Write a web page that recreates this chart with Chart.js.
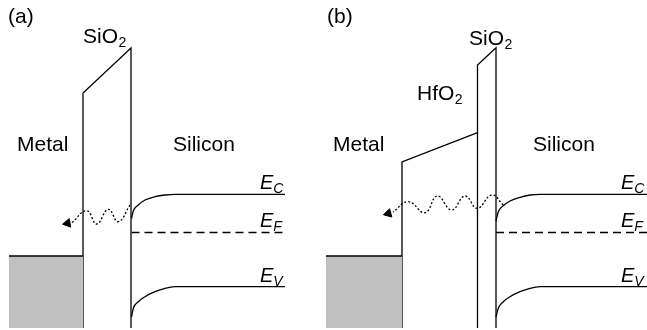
<!DOCTYPE html>
<html>
<head>
<meta charset="utf-8">
<script src="https://cdn.jsdelivr.net/npm/chart.js@4/dist/chart.umd.min.js"></script>
<style>
  html, body { margin: 0; padding: 0; background: #fff; }
  canvas { display: block; }
</style>
</head>
<body>
<canvas id="bands" width="647" height="330"></canvas>
<script>
// Energy-band diagrams for gate tunnelling:
// (a) metal / SiO2 / silicon, (b) metal / HfO2 / SiO2 / silicon.
// x = position across the stack, y = electron energy (arbitrary units, higher = up).

const BASE = 2; // lowest energy drawn

// ---- panel (a) ----
const metalA   = [[9, 74], [83, 74]];
const oxideA   = [[83, BASE], [83, 237], [131, 282], [131, BASE]];
const ecA      = [[131.5, 111.5], [133.3, 119], [138.3, 125], [145, 130], [155, 133.3], [165, 135], [175, 135.7], [285, 135.7]];
const efA      = [[131.5, 97.5], [285, 97.5]];
const evA      = [[131.5, 13], [133.3, 21.7], [138.3, 28.3], [145, 33.3], [155, 38.3], [165, 41.7], [175, 43.3], [285, 43.3]];
const tunnelA  = [[130, 125], [118.3, 108.3], [108.3, 120.7], [96.7, 106], [86.7, 119.3], [72, 107.5]];
const arrowA   = [[67.5, 106.7]];

// ---- panel (b) ----
const metalB   = [[326, 74], [402, 74]];
const hfo2B    = [[402, BASE], [402, 168], [477.5, 197.3]];
const sio2B    = [[477.5, BASE], [477.5, 265], [496, 282.3], [496, BASE]];
const ecB      = [[496, 109], [498.3, 118.3], [503.3, 124.3], [510, 129], [520, 132.7], [530, 135], [540, 135.7], [647, 135.7]];
const efB      = [[496, 97.5], [647, 97.5]];
const evB      = [[496, 13], [498.3, 21.7], [503.3, 28.3], [510, 33.3], [520, 38.3], [530, 41.7], [540, 43.3], [647, 43.3]];
const tunnelB  = [[503.3, 125], [491.7, 135], [477.3, 121.7], [465, 134], [451.7, 120], [437.3, 134], [425, 117.3], [408.3, 128.3], [393, 118]];
const arrowB   = [[388.3, 116.5]];

// ---- text labels: [text, subscript, x, baseline y, italic] ----
const labelText = [
  ['(a)', '', 8, 307, false],
  ['SiO', '2', 83, 286.7, false],
  ['Metal', '', 17, 179, false],
  ['Silicon', '', 173, 179, false],
  ['E', 'C', 260, 141, true],
  ['E', 'F', 260, 103.5, true],
  ['E', 'V', 260, 48.5, true],
  ['(b)', '', 327, 307, false],
  ['SiO', '2', 469, 285, false],
  ['HfO', '2', 417, 230, false],
  ['Metal', '', 333, 179, false],
  ['Silicon', '', 533, 179, false],
  ['E', 'C', 621, 141, true],
  ['E', 'F', 621, 103.5, true],
  ['E', 'V', 621, 48.5, true]
];

const pts = arr => arr.map(([x, y]) => ({ x, y }));

function line(data, extra) {
  return Object.assign({
    data: pts(data),
    showLine: true,
    pointRadius: 0,
    borderColor: '#000',
    borderWidth: 1.3,
    fill: false,
    tension: 0
  }, extra || {});
}

const metal = d => line(d, { fill: { value: BASE }, backgroundColor: '#c0c0c0' });
const curve = d => line(d, { cubicInterpolationMode: 'monotone' });
const dashed = d => line(d, { borderDash: [8, 5] });
const wave = d => line(d, { tension: 0.45, borderDash: [2, 2], borderWidth: 1.3 });
const arrow = (d, rot) => ({
  data: pts(d),
  showLine: false,
  pointStyle: 'triangle',
  pointRadius: 5,
  pointRotation: rot,
  pointBackgroundColor: '#000',
  pointBorderColor: '#000',
  pointBorderWidth: 1
});

const textPlugin = {
  id: 'bandText',
  afterDraw(chart) {
    const { ctx, scales } = chart;
    const fam = '"Liberation Sans", Arial, Helvetica, sans-serif';
    ctx.save();
    ctx.fillStyle = '#000';
    ctx.textBaseline = 'alphabetic';
    ctx.textAlign = 'left';
    labelText.forEach(([main, sub, x, y, italic]) => {
      const px = scales.x.getPixelForValue(x);
      const py = scales.y.getPixelForValue(y);
      const style = italic ? 'italic ' : '';
      ctx.font = style + (italic ? 20 : 21) + 'px ' + fam;
      ctx.fillText(main, px, py);
      if (sub) {
        const w = ctx.measureText(main).width;
        ctx.font = style + '14px ' + fam;
        ctx.fillText(sub, px + w + (italic ? 0 : 0.5), py + 4);
      }
    });
    ctx.restore();
  }
};

new Chart(document.getElementById('bands'), {
  type: 'scatter',
  data: {
    datasets: [
      metal(metalA), line(oxideA), curve(ecA), dashed(efA), curve(evA), wave(tunnelA), arrow(arrowA, 260),
      metal(metalB), line(hfo2B), line(sio2B), curve(ecB), dashed(efB), curve(evB), wave(tunnelB), arrow(arrowB, 255)
    ]
  },
  options: {
    responsive: false,
    animation: false,
    layout: { padding: 0, autoPadding: false },
    plugins: { legend: { display: false }, tooltip: { enabled: false } },
    scales: {
      x: { type: 'linear', min: 0, max: 647, display: false },
      y: { type: 'linear', min: 0, max: 330, display: false }
    }
  },
  plugins: [textPlugin]
});
</script>
</body>
</html>
